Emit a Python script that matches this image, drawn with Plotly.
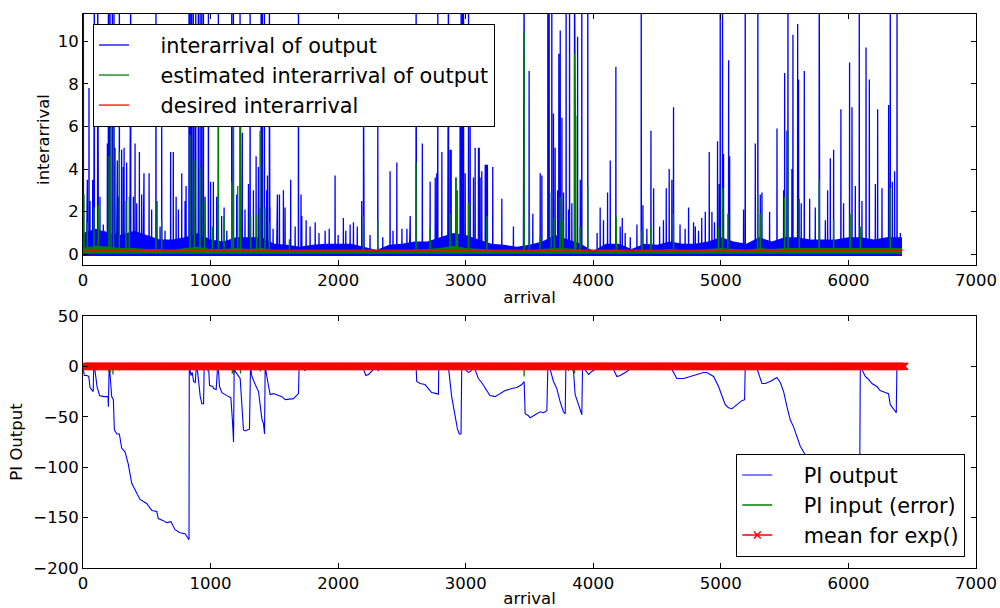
import plotly.graph_objects as go

# ---------------- data ----------------
# Top panel: spikes of "interarrival of output" (arrival index, value); 14 = clipped above the axis
blue_spikes = [
    (3, 14), (89, 14), (115, 14), (199, 14), (212, 14), (230, 14), (243, 14), (285, 14), (374, 14),
    (572, 14), (831, 14), (839, 14), (852, 14), (865, 14), (884, 14), (904, 14), (918, 14), (931, 14),
    (944, 14), (983, 14), (1061, 14), (1166, 14), (1179, 14), (1231, 14), (1310, 14), (1396, 14),
    (1406, 14), (1422, 14), (1461, 14), (1689, 14), (2611, 14), (2781, 14), (2865, 14), (2964, 14),
    (2975, 14), (2983, 14), (3022, 14), (3458, 14), (3644, 14), (3654, 14), (3675, 14), (3787, 14),
    (3814, 14), (3853, 14), (3910, 14), (3957, 14), (4376, 14), (4995, 14), (5013, 14), (5191, 14),
    (5290, 14), (5526, 14), (5771, 14), (6085, 14), (6328, 14), (6381, 14),
    (29, 2.8), (34, 3.5), (47, 7.8), (55, 2.5), (76, 3.5), (86, 6.8), (120, 2.5), (133, 2.7), (159, 1.4),
    (172, 1.1), (191, 5.2), (204, 4.6), (251, 5.0), (264, 3.3), (269, 4.4), (277, 2.7), (303, 4.9),
    (316, 4.1), (322, 5.0), (342, 4.3), (369, 3.6), (395, 2.7), (408, 5.2), (421, 2.4), (442, 4.8),
    (460, 2.8), (473, 3.0), (478, 3.8), (518, 3.8), (538, 2.1), (580, 2.5), (604, 1.3), (617, 6.3),
    (643, 1.1), (687, 4.8), (708, 4.8), (730, 2.7), (748, 2.1), (774, 3.8), (800, 2.5), (808, 3.2),
    (844, 5.7), (878, 8.0), (957, 2.7), (1000, 3.4), (1022, 3.4), (1048, 2.7), (1087, 1.8), (1106, 2.2),
    (1127, 1.1), (1205, 2.8), (1244, 2.7), (1249, 5.7), (1270, 2.1), (1297, 3.3), (1336, 3.0),
    (1357, 4.6), (1375, 4.1), (1388, 2.2), (1440, 3.0), (1446, 3.7), (1466, 2.2), (1490, 1.2),
    (1519, 1.8), (1524, 2.8), (1540, 2.8), (1571, 3.0), (1584, 2.2), (1628, 3.5), (1663, 1.3),
    (1709, 2.8), (1715, 1.8), (1749, 1.6), (1780, 1.3), (1820, 1.5), (1850, 1.0), (1898, 1.1),
    (1930, 1.2), (1976, 3.7), (2000, 0.9), (2041, 1.7), (2060, 1.1), (2094, 1.4), (2120, 1.5),
    (2150, 1.3), (2185, 2.5), (2199, 8.0), (2203, 1.9), (2250, 0.9), (2311, 6.2), (2350, 0.8),
    (2407, 3.9), (2430, 1.1), (2460, 4.3), (2500, 1.2), (2539, 1.2), (2560, 1.0), (2565, 1.8),
    (2613, 2.3), (2660, 5.2), (2721, 3.4), (2761, 3.6), (2773, 3.8), (2813, 4.8), (2860, 6.3),
    (2878, 4.9), (2886, 4.9), (2923, 3.6), (2956, 8.2), (2996, 3.8), (3035, 6.4), (3061, 3.6),
    (3074, 5.0), (3100, 5.0), (3106, 5.0), (3113, 3.6), (3126, 3.9), (3153, 4.2), (3160, 4.2),
    (3170, 4.2), (3212, 4.1), (3283, 2.6), (3374, 1.3), (3453, 2.6), (3497, 8.6), (3526, 1.9),
    (3584, 3.8), (3597, 3.7), (3688, 6.6), (3701, 5.0), (3720, 3.0), (3730, 9.4), (3741, 10.5),
    (3754, 6.4), (3767, 2.9), (3806, 2.1), (3832, 2.4), (3858, 6.5), (3877, 10.2), (3898, 3.5),
    (4030, 1.0), (4054, 2.2), (4080, 1.6), (4112, 2.9), (4133, 4.4), (4177, 8.8), (4211, 1.3),
    (4227, 1.7), (4250, 1.0), (4290, 0.8), (4342, 1.4), (4389, 2.3), (4420, 1.2), (4452, 5.8),
    (4473, 3.1), (4520, 1.3), (4550, 1.6), (4572, 3.1), (4595, 4.0), (4616, 3.5), (4629, 6.9),
    (4680, 1.4), (4720, 1.2), (4747, 2.2), (4786, 1.5), (4800, 1.3), (4825, 1.1), (4850, 1.7),
    (4878, 2.0), (4909, 4.8), (4930, 2.0), (4950, 1.5), (4974, 5.3), (4987, 3.3), (5021, 4.7),
    (5061, 9.1), (5069, 4.6), (5178, 2.1), (5270, 5.2), (5309, 2.8), (5322, 2.9), (5382, 2.0),
    (5440, 5.9), (5492, 3.0), (5500, 8.5), (5518, 5.8), (5557, 4.0), (5565, 10.3), (5602, 10.8),
    (5609, 8.2), (5630, 2.4), (5654, 8.6), (5696, 2.6), (5740, 2.2), (5774, 3.6), (5819, 1.6),
    (5837, 3.0), (5858, 4.5), (5884, 4.9), (5941, 6.8), (5962, 2.4), (6009, 9.0), (6028, 6.9),
    (6054, 3.2), (6106, 2.5), (6138, 9.7), (6164, 8.2), (6211, 3.3), (6229, 6.8), (6263, 3.1),
    (6315, 7.0), (6344, 3.4), (6362, 3.9), (6407, 1.0),
]
# dense lower part of "interarrival of output": upper edge every 100 arrivals
band_arrival = [0, 100, 200, 300, 400, 500, 600, 700, 800, 900, 1000, 1100, 1200, 1300, 1400, 1500,
                1600, 1700, 1800, 1900, 2000, 2100, 2200, 2300, 2400, 2500, 2600, 2700, 2800, 2900,
                3000, 3100, 3200, 3300, 3400, 3500, 3600, 3700, 3800, 3900, 4000, 4100, 4200, 4300,
                4400, 4500, 4600, 4700, 4800, 4900, 5000, 5100, 5200, 5300, 5400, 5500, 5600, 5700,
                5800, 5900, 6000, 6100, 6200, 6300, 6420]
blue_band_top = [1.0, 1.2, 1.0, 0.9, 1.1, 0.9, 0.7, 0.7, 0.8, 1.0, 0.7, 0.6, 0.8, 0.8, 0.8, 0.5,
                 0.45, 0.35, 0.45, 0.5, 0.5, 0.5, 0.35, 0.2, 0.45, 0.5, 0.6, 0.6, 0.8, 1.0,
                 0.9, 0.7, 0.5, 0.45, 0.35, 0.45, 0.6, 0.9, 0.7, 0.5, 0.15, 0.5, 0.5, 0.25,
                 0.5, 0.45, 0.6, 0.5, 0.5, 0.6, 0.8, 0.6, 0.5, 0.8, 0.6, 0.8, 0.8, 0.7,
                 0.7, 0.7, 0.8, 0.8, 0.7, 0.8, 0.8]
blue_band_bottom = -0.08

# "estimated interarrival of output"
green_spikes = [
    (8, 2.8), (34, 1.5), (86, 2.2), (120, 2.3), (204, 4.6), (220, 7.0), (240, 7.0), (285, 4.8),
    (337, 2.5), (363, 2.7), (572, 2.5), (617, 1.6), (839, 5.6), (872, 4.4), (918, 4.1), (952, 2.5),
    (1014, 1.3), (1061, 6.3), (1106, 1.8), (1166, 3.4), (1179, 6.0), (1213, 3.2), (1236, 6.3),
    (1315, 1.8), (1362, 1.9), (1388, 5.8), (1427, 2.2), (1461, 1.5), (1618, 0.7), (2198, 1.8),
    (2311, 1.6), (2611, 4.3), (2721, 1.3), (2878, 1.9), (2925, 3.6), (2935, 3.0), (3022, 2.4),
    (3166, 1.8), (3458, 10.4), (3500, 1.7), (3583, 0.8), (3670, 2.9), (3693, 1.7), (3740, 2.7),
    (3761, 1.6), (3853, 9.4), (3863, 6.5), (3897, 1.3), (3957, 3.2), (4180, 1.8), (4381, 1.1),
    (4451, 1.3), (4629, 1.9), (4982, 1.3), (5013, 3.1), (5055, 1.9), (5288, 2.9), (5309, 1.9),
    (5500, 2.7), (5526, 5.8), (5615, 2.6), (5771, 3.5), (5884, 1.6), (6014, 1.9), (6093, 1.3),
    (6328, 3.1),
]
green_band_top = [0.3, 0.4, 0.35, 0.3, 0.3, 0.25, 0.25, 0.2, 0.3, 0.35, 0.25, 0.25, 0.3, 0.25,
                  0.3, 0.2, 0.15, 0.15, 0.18, 0.2, 0.2, 0.2, 0.15, 0.1, 0.18, 0.2, 0.25, 0.25, 0.3,
                  0.4, 0.3, 0.25, 0.2, 0.18, 0.15, 0.18, 0.25, 0.3, 0.28, 0.2, 0.08, 0.2, 0.2, 0.1,
                  0.2, 0.18, 0.25, 0.2, 0.2, 0.25, 0.3, 0.25, 0.2, 0.3, 0.25, 0.3, 0.3, 0.28,
                  0.28, 0.28, 0.3, 0.3, 0.28, 0.3, 0.3]
green_band_bottom = 0.02

desired_arrival = [0, 6427]
desired_interarrival = [0.2, 0.2]

# Bottom panel
pi_output = [
    (0, 0), (10, -9), (30, -9), (45, -10), (55, -21), (70, -23), (80, -25), (84, 0), (86, 0), (95, -5),
    (110, -20), (130, -29), (160, -30), (196, -30), (199, -40), (205, 0), (212, -8), (225, -30),
    (238, -33), (246, -63), (265, -67), (285, -67), (303, -81), (330, -85), (355, -97), (382, -116),
    (410, -123), (447, -132), (499, -136), (540, -143), (578, -144), (590, -151), (630, -153),
    (656, -155), (690, -154), (721, -162), (760, -165), (800, -166), (826, -171), (831, -172),
    (833, 0), (846, -9), (856, -6), (867, -15), (880, -16), (888, -1), (898, -5), (919, -30),
    (932, -37), (945, -37), (950, 0), (984, 0), (992, -19), (1018, -20), (1023, -22), (1044, -23),
    (1055, 0), (1060, 0), (1070, -20), (1089, -26), (1128, -29), (1159, -31), (1172, -55),
    (1180, -75), (1185, 0), (1193, -5), (1232, -12), (1245, -40), (1258, -63), (1272, -64),
    (1305, -62), (1313, 0), (1324, -10), (1350, -18), (1376, -25), (1402, -52), (1415, -57),
    (1423, -67), (1428, 0), (1441, -10), (1467, -28), (1493, -27), (1520, -28), (1559, -30),
    (1585, -33), (1624, -32), (1650, -32), (1689, -27), (1694, 0), (1741, -4), (1755, 0), (2190, 0),
    (2198, -3), (2217, -9), (2238, -8), (2277, -3), (2290, 0), (2316, -4), (2329, 0), (2611, 0),
    (2616, -15), (2642, -17), (2681, -18), (2707, -22), (2733, -26), (2773, -27), (2786, -28),
    (2789, 0), (2864, 0), (2890, -30), (2916, -50), (2935, -62), (2950, -67), (2963, -67), (2969, 0),
    (3021, -6), (3039, -5), (3060, 0), (3073, -3), (3099, -12), (3125, -16), (3159, -23), (3190, -29),
    (3230, -30), (3270, -27), (3309, -24), (3361, -22), (3401, -21), (3440, -18), (3458, -15),
    (3466, -47), (3492, -49), (3505, -51), (3544, -48), (3583, -45), (3610, -46), (3636, -44),
    (3644, 0), (3662, -3), (3688, -15), (3714, -22), (3740, -35), (3766, -45), (3780, -47), (3785, 0),
    (3806, -4), (3819, 0), (3845, -5), (3858, -28), (3884, -38), (3910, -48), (3916, 0), (3963, -8),
    (3989, -5), (4015, -3), (4033, 0), (4146, 0), (4159, -3), (4185, -10), (4211, -9), (4263, -5),
    (4315, 0), (4459, 0), (4472, -3), (4511, -2), (4577, 0), (4616, -3), (4655, -12), (4708, -12),
    (4760, -10), (4812, -8), (4864, -6), (4890, -6), (4917, -8), (4943, -10), (4982, -20),
    (5008, -30), (5034, -38), (5060, -41), (5087, -42), (5126, -38), (5165, -34), (5186, -33),
    (5191, 0), (5277, 0), (5296, -8), (5322, -17), (5348, -17), (5387, -15), (5426, -12),
    (5439, -11), (5466, -16), (5492, -25), (5518, -40), (5544, -53), (5570, -60), (5596, -70),
    (5622, -79), (5662, -88), (5683, -93), (5800, -115), (5950, -135), (6087, -150), (6093, 0),
    (6106, -3), (6132, -10), (6158, -13), (6184, -17), (6223, -20), (6249, -24), (6288, -26),
    (6314, -27), (6328, -38), (6354, -43), (6375, -46), (6380, 0), (6420, 0),
]
pi_error_dips = [(200, -5), (215, -6), (235, -8), (250, -3), (285, -4), (830, -3), (980, -5),
                 (1060, -4), (1170, -7), (1180, -8), (1235, -7), (1390, -5), (3458, -10),
                 (3853, -7), (5526, -4)]
mean_arrival = list(range(0, 6447, 10))
mean_level = 0.0

# ---------------- build figure ----------------
BLUE, GREEN, RED = "#0000ff", "#008000", "#ff0000"
FONT = "DejaVu Sans"
PAD = "\u00a0" * 4  # gap between legend sample line and its label


def spike_line(points, base):
    xs, ys = [], []
    for x, v in sorted(points):
        xs += [x - 1, x, x + 1]
        ys += [base, v, base]
    return xs, ys


def band(xs, top, bottom):
    return xs + xs[::-1], top + [bottom] * len(xs)


fig = go.Figure()

bx, by = band(band_arrival, blue_band_top, blue_band_bottom)
fig.add_trace(go.Scatter(x=bx, y=by, fill="toself", fillcolor=BLUE, mode="lines",
                         line=dict(width=0), showlegend=False, hoverinfo="skip",
                         xaxis="x", yaxis="y"))
sx, sy = spike_line(blue_spikes, 0.1)
fig.add_trace(go.Scatter(x=sx, y=sy, mode="lines", line=dict(color=BLUE, width=1.3),
                         name=PAD + "interarrival of output", legend="legend", xaxis="x", yaxis="y"))
gx, gy = band(band_arrival, green_band_top, green_band_bottom)
fig.add_trace(go.Scatter(x=gx, y=gy, fill="toself", fillcolor=GREEN, mode="lines",
                         line=dict(width=0), showlegend=False, hoverinfo="skip",
                         xaxis="x", yaxis="y"))
sx, sy = spike_line(green_spikes, 0.15)
fig.add_trace(go.Scatter(x=sx, y=sy, mode="lines", line=dict(color=GREEN, width=1.3),
                         name=PAD + "estimated interarrival of output", legend="legend",
                         xaxis="x", yaxis="y"))
fig.add_trace(go.Scatter(x=desired_arrival, y=desired_interarrival, mode="lines",
                         line=dict(color=RED, width=1.3), name=PAD + "desired interarrival",
                         legend="legend", xaxis="x", yaxis="y"))

fig.add_trace(go.Scatter(x=[p[0] for p in pi_output], y=[p[1] for p in pi_output], mode="lines",
                         line=dict(color=BLUE, width=1.1), name=PAD + "PI output", legend="legend2",
                         xaxis="x2", yaxis="y2"))
ex, ey = spike_line(pi_error_dips, 0.0)
fig.add_trace(go.Scatter(x=ex, y=ey, mode="lines", line=dict(color=GREEN, width=1.3),
                         name=PAD + "PI input (error)", legend="legend2", xaxis="x2", yaxis="y2"))
fig.add_trace(go.Scatter(x=mean_arrival, y=[mean_level for _ in mean_arrival], mode="lines+markers",
                         line=dict(color=RED, width=1.3),
                         marker=dict(symbol="x-thin", size=7, color=RED,
                                     line=dict(color=RED, width=1.5)),
                         name=PAD + "mean for exp()", legend="legend2", xaxis="x2", yaxis="y2"))

axis_common = dict(showline=True, linecolor="black", linewidth=1, mirror="allticks",
                   ticks="inside", ticklen=5, tickcolor="black", showgrid=False, zeroline=False,
                   tickfont=dict(family=FONT, size=16.5, color="black"), automargin=False)

fig.update_layout(
    width=1000, height=608,
    margin=dict(l=83, r=24, t=14, b=40),
    paper_bgcolor="white", plot_bgcolor="white",
    font=dict(family=FONT, color="black"),
    xaxis=dict(domain=[0, 1], range=[0, 7000], dtick=1000, anchor="y",
               title=dict(text="arrival", font=dict(size=16.5), standoff=2), **axis_common),
    yaxis=dict(domain=[0.547, 1], range=[-0.5, 11.27], tickvals=[0, 2, 4, 6, 8, 10], anchor="x",
               title=dict(text="interarrival", font=dict(size=16.5), standoff=3), **axis_common),
    xaxis2=dict(domain=[0, 1], range=[0, 7000], dtick=1000, anchor="y2",
                title=dict(text="arrival", font=dict(size=16.5), standoff=2), **axis_common),
    yaxis2=dict(domain=[0, 0.4549], range=[-200, 50], dtick=50, anchor="x2",
                title=dict(text="PI Output", font=dict(size=16.5), standoff=6), **axis_common),
    legend=dict(x=0.0112, y=0.982, xanchor="left", yanchor="top", bgcolor="white",
                bordercolor="black", borderwidth=1, font=dict(family=FONT, size=20.8)),
    legend2=dict(x=0.988, y=0.02, xanchor="right", yanchor="bottom", bgcolor="white",
                 bordercolor="black", borderwidth=1, font=dict(family=FONT, size=20.8)),
    showlegend=True,
)

fig.write_html("out.html")
